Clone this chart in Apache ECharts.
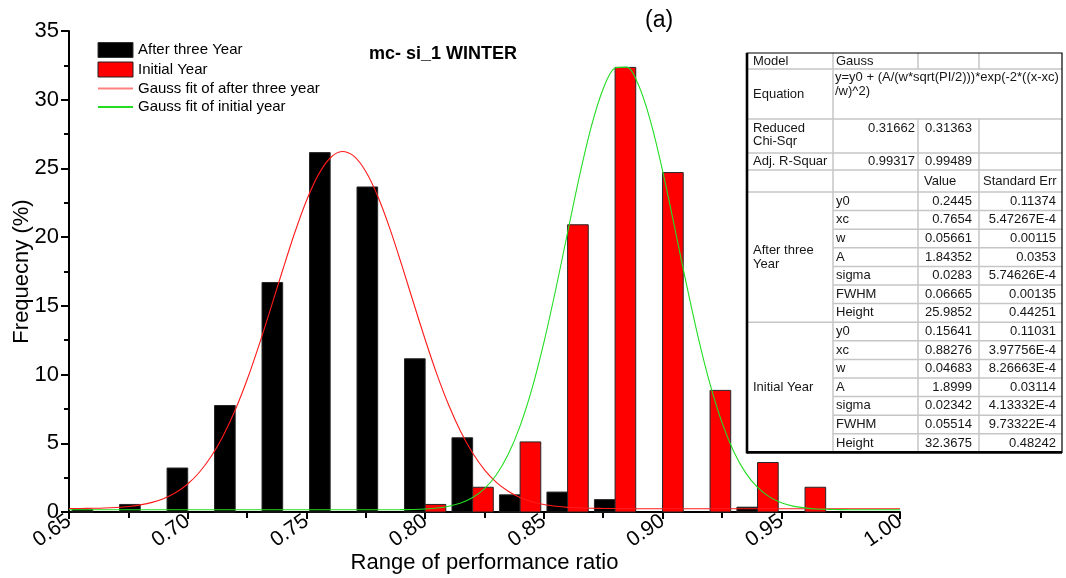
<!DOCTYPE html>
<html>
<head>
<meta charset="utf-8">
<script src="https://cdn.jsdelivr.net/npm/echarts/dist/echarts.min.js"></script>
<style>
  html, body { margin: 0; padding: 0; background: #ffffff; }
  #chart { width: 1066px; height: 578px; }
</style>
</head>
<body>
<div id="chart"></div>
<script>
// Histogram bins (centre of each 0.02-wide bin of performance ratio)
const binCenters = [0.66, 0.68, 0.70, 0.72, 0.74, 0.76, 0.78, 0.80, 0.82, 0.84, 0.86, 0.88, 0.90, 0.92, 0.94, 0.96, 0.98];
// Frequency (%) per bin
const afterThreeYear = [0.2, 0.55, 3.2, 7.75, 16.7, 26.15, 23.65, 11.15, 5.4, 1.25, 1.45, 0.9, 0, 0, 0.35, 0, 0];
const initialYear    = [0, 0, 0, 0, 0, 0, 0, 0.55, 1.8, 5.1, 20.9, 32.35, 24.7, 8.85, 3.6, 1.8, 0];

// Gauss fit curves, [ratio, frequency]
const fitAfterThree = [
  [0.65, 0.25], [0.655, 0.26], [0.66, 0.27], [0.665, 0.29], [0.67, 0.33], [0.675, 0.40],
  [0.68, 0.52], [0.685, 0.70], [0.69, 0.99], [0.695, 1.42], [0.70, 2.04], [0.705, 2.91],
  [0.71, 4.07], [0.715, 5.57], [0.72, 7.42], [0.725, 9.62], [0.73, 12.13], [0.735, 14.84],
  [0.74, 17.61], [0.745, 20.28], [0.75, 22.65], [0.755, 24.53], [0.76, 25.76], [0.765, 26.23],
  [0.77, 25.89], [0.775, 24.77], [0.78, 22.99], [0.785, 20.69], [0.79, 18.05], [0.795, 15.28],
  [0.80, 12.55], [0.805, 10.0], [0.81, 7.75], [0.815, 5.84], [0.82, 4.29], [0.825, 3.07],
  [0.83, 2.16], [0.835, 1.51], [0.84, 1.05], [0.845, 0.74], [0.85, 0.54], [0.855, 0.42],
  [0.86, 0.34], [0.865, 0.30], [0.87, 0.27], [0.875, 0.26], [0.88, 0.25], [0.885, 0.245],
  [0.89, 0.24], [0.95, 0.24], [1.00, 0.24]
];
const fitInitial = [
  [0.65, 0.16], [0.70, 0.16], [0.75, 0.16], [0.775, 0.16], [0.78, 0.16], [0.785, 0.16],
  [0.79, 0.17], [0.795, 0.185], [0.80, 0.22], [0.805, 0.29], [0.81, 0.42], [0.815, 0.65],
  [0.82, 1.05], [0.825, 1.70], [0.83, 2.71], [0.835, 4.20], [0.84, 6.27], [0.845, 8.98],
  [0.85, 12.33], [0.855, 16.19], [0.86, 20.34], [0.865, 24.44], [0.87, 28.06], [0.875, 30.80],
  [0.88, 32.30], [0.885, 32.37], [0.89, 31.01], [0.895, 28.39], [0.90, 24.84], [0.905, 20.78],
  [0.91, 16.61], [0.915, 12.71], [0.92, 9.30], [0.925, 6.52], [0.93, 4.39], [0.935, 2.85],
  [0.94, 1.79], [0.945, 1.10], [0.95, 0.68], [0.955, 0.43], [0.96, 0.30], [0.965, 0.22],
  [0.97, 0.19], [0.975, 0.17], [0.98, 0.16], [0.985, 0.16], [1.00, 0.16]
];

// Axis tick labels
const xTickLabels = ['0.65', '0.70', '0.75', '0.80', '0.85', '0.90', '0.95', '1.00'];
const yTickLabels = ['0', '5', '10', '15', '20', '25', '30', '35'];

// Fit report table contents
const fitModel = 'Gauss';
const fitEquation = ['y=y0 + (A/(w*sqrt(PI/2)))*exp(-2*((x-xc)', '/w)^2)'];
const reducedChiSqr = ['0.31662', '0.31363'];
const adjRSquare = ['0.99317', '0.99489'];
const paramNames = ['y0', 'xc', 'w', 'A', 'sigma', 'FWHM', 'Height'];
const afterParams = [
  ['0.2445', '0.11374'], ['0.7654', '5.47267E-4'], ['0.05661', '0.00115'], ['1.84352', '0.0353'],
  ['0.0283', '5.74626E-4'], ['0.06665', '0.00135'], ['25.9852', '0.44251']
];
const initialParams = [
  ['0.15641', '0.11031'], ['0.88276', '3.97756E-4'], ['0.04683', '8.26663E-4'], ['1.8999', '0.03114'],
  ['0.02342', '4.13332E-4'], ['0.05514', '9.73322E-4'], ['32.3675', '0.48242']
];

const FONT = '"Liberation Sans", Arial, sans-serif';
const BAR_SPAN = 0.0087; // width of each bar in ratio units (two bars per bin)
const RED = '#ff1a1a';
const GREEN = '#22dd22';

function barRenderer(side, fill) {
  return function (params, api) {
    const c = api.value(0);
    const v = api.value(1);
    if (!v) return null;
    const x0 = side < 0 ? c - BAR_SPAN : c;
    const x1 = side < 0 ? c : c + BAR_SPAN;
    const pTop = api.coord([x0, v]);
    const pBot = api.coord([x1, 0]);
    return {
      type: 'rect',
      shape: { x: pTop[0], y: pTop[1], width: pBot[0] - pTop[0], height: pBot[1] - pTop[1] },
      style: { fill: fill, stroke: '#262626', lineWidth: 1 }
    };
  };
}

// ---- fit report table built from graphic elements ----
function buildTable() {
  const cols = [747, 833, 918, 979, 1062];
  const head = [53, 69, 119, 153, 170, 192];
  const rowH = 18.6;
  const bottom = head[5] + rowH * 14;
  const grid = '#c6c6c6';
  const els = [];
  const line = (x1, y1, x2, y2, stroke, w) => els.push({
    type: 'line', shape: { x1, y1, x2, y2 }, style: { stroke, lineWidth: w }, silent: true
  });
  const text = (t, x, y, align, va) => els.push({
    type: 'text', x, y,
    style: { text: t, fill: '#161616', fontSize: 13, fontFamily: FONT, align: align || 'left', verticalAlign: va || 'middle' },
    silent: true
  });
  // background
  els.push({ type: 'rect', shape: { x: cols[0], y: head[0], width: cols[4] - cols[0], height: bottom - head[0] },
    style: { fill: '#ffffff' }, silent: true });
  // header horizontal lines
  for (let i = 1; i < head.length; i++) line(cols[0], head[i], cols[4], head[i], grid, 1.5);
  // vertical lines
  line(cols[1], head[0], cols[1], bottom, grid, 1.5);
  [cols[2], cols[3]].forEach(x => {
    line(x, head[0], x, head[1], grid, 1.5);
    line(x, head[2], x, bottom, grid, 1.5);
  });
  // parameter rows
  for (let k = 1; k < 14; k++) {
    const y = head[5] + rowH * k;
    line(k === 7 ? cols[0] : cols[1], y, cols[4], y, grid, 1.5);
  }
  // outer frame
  els.push({ type: 'rect', shape: { x: cols[0], y: head[0], width: cols[4] - cols[0], height: bottom - head[0] },
    style: { fill: null, stroke: '#000', lineWidth: 1.2 }, silent: true });
  line(cols[0], head[0], cols[0], bottom + 1, '#000', 2.6);
  line(cols[0], bottom, cols[4], bottom, '#000', 2.6);

  // header texts
  text('Model', cols[0] + 6, (head[0] + head[1]) / 2);
  text(fitModel, cols[1] + 3, (head[0] + head[1]) / 2);
  text('Equation', cols[0] + 6, (head[1] + head[2]) / 2);
  text(fitEquation[0], cols[1] + 2, head[1] + 8);
  text(fitEquation[1], cols[1] + 2, head[1] + 22);
  text('Reduced', cols[0] + 6, head[2] + 9);
  text('Chi-Sqr', cols[0] + 6, head[2] + 22);
  text(reducedChiSqr[0], cols[2] - 3, head[2] + 9, 'right');
  text(reducedChiSqr[1], cols[3] - 7, head[2] + 9, 'right');
  text('Adj. R-Squar', cols[0] + 6, (head[3] + head[4]) / 2);
  text(adjRSquare[0], cols[2] - 3, (head[3] + head[4]) / 2, 'right');
  text(adjRSquare[1], cols[3] - 7, (head[3] + head[4]) / 2, 'right');
  text('Value', cols[2] + 6, (head[4] + head[5]) / 2);
  text('Standard Err', cols[3] + 4, (head[4] + head[5]) / 2);

  // parameter groups
  [[['After three', 'Year'], afterParams], [['Initial Year'], initialParams]].forEach((grp, g) => {
    const y0 = head[5] + rowH * 7 * g;
    const mid = y0 + rowH * 3.5;
    const labels = grp[0];
    labels.forEach((t, i) => text(t, cols[0] + 6, mid + (i - (labels.length - 1) / 2) * 14));
    grp[1].forEach((vals, r) => {
      const cy = y0 + rowH * (r + 0.5);
      text(paramNames[r], cols[1] + 3, cy);
      text(vals[0], cols[3] - 7, cy, 'right');
      text(vals[1], cols[4] - 6, cy, 'right');
    });
  });
  return { type: 'group', z: 100, children: els };
}

const chart = echarts.init(document.getElementById('chart'), null, { renderer: 'canvas' });

const option = {
  backgroundColor: '#ffffff',
  animation: false,
  textStyle: { fontFamily: FONT },
  title: {
    text: 'mc- si_1 WINTER',
    left: 364, top: 40,
    textStyle: { fontFamily: FONT, fontSize: 18, fontWeight: 'bold', color: '#000' }
  },
  legend: {
    orient: 'vertical',
    left: 92, top: 37,
    itemWidth: 35, itemHeight: 15, itemGap: 3.5, itemTextGap: 6,
    textStyle: { fontFamily: FONT, fontSize: 15, color: '#000', lineHeight: 15 },
    data: [
      { name: 'After three Year', icon: 'rect', itemStyle: { color: '#000', borderColor: '#333', borderWidth: 1 } },
      { name: 'Initial Year', icon: 'rect', itemStyle: { color: '#ff0000', borderColor: '#222', borderWidth: 1 } },
      { name: 'Gauss fit of after three year', itemStyle: { opacity: 0 }, lineStyle: { color: '#ff8080' } },
      { name: 'Gauss fit of initial year', itemStyle: { opacity: 0 } }
    ]
  },
  grid: { left: 69, right: 166, top: 31, bottom: 66, containLabel: false, outerBoundsMode: 'none' },
  xAxis: {
    type: 'value',
    min: 0.65, max: 1.0, interval: 0.05,
    name: 'Range of performance ratio',
    nameLocation: 'middle', nameGap: 40, nameMoveOverlap: false,
    nameTextStyle: { fontFamily: FONT, fontSize: 22, color: '#000' },
    axisLine: { show: true, onZero: false, lineStyle: { color: '#000', width: 2 } },
    axisTick: { show: true, length: 7, lineStyle: { color: '#000', width: 2 } },
    minorTick: { show: true, splitNumber: 2, length: 6, lineStyle: { color: '#000', width: 2 } },
    splitLine: { show: false },
    axisLabel: {
      rotate: 35, margin: 7,
      fontFamily: FONT, fontSize: 21, color: '#000',
      formatter: v => xTickLabels[Math.round((v - 0.65) / 0.05)]
    }
  },
  yAxis: {
    type: 'value',
    min: 0, max: 35, interval: 5,
    name: 'Frequecny (%)',
    nameLocation: 'middle', nameGap: 36, nameMoveOverlap: false,
    nameTextStyle: { fontFamily: FONT, fontSize: 22, color: '#000' },
    axisLine: { show: true, lineStyle: { color: '#000', width: 2 } },
    axisTick: { show: true, length: 8, lineStyle: { color: '#000', width: 2 } },
    minorTick: { show: true, splitNumber: 2, length: 5, lineStyle: { color: '#000', width: 2 } },
    splitLine: { show: false },
    axisLabel: {
      margin: 10,
      fontFamily: FONT, fontSize: 22, color: '#000',
      formatter: v => yTickLabels[Math.round(v / 5)]
    }
  },
  series: [
    {
      name: 'After three Year', type: 'custom', z: 2,
      renderItem: barRenderer(-1, '#000000'),
      encode: { x: 0, y: 1 },
      data: binCenters.map((c, i) => [c, afterThreeYear[i]])
    },
    {
      name: 'Initial Year', type: 'custom', z: 2,
      renderItem: barRenderer(1, '#ff0000'),
      encode: { x: 0, y: 1 },
      data: binCenters.map((c, i) => [c, initialYear[i]])
    },
    {
      name: 'Gauss fit of after three year', type: 'line', z: 3,
      data: fitAfterThree, symbol: 'none', showSymbol: false, smooth: 0.3,
      lineStyle: { color: RED, width: 1.1 }, itemStyle: { color: RED }
    },
    {
      name: 'Gauss fit of initial year', type: 'line', z: 3,
      data: fitInitial, symbol: 'none', showSymbol: false, smooth: 0.3,
      lineStyle: { color: GREEN, width: 1.1 }, itemStyle: { color: GREEN }
    }
  ],
  graphic: [
    {
      type: 'text', left: 645, top: 9, z: 50,
      style: { text: '(a)', fill: '#000', fontSize: 23, fontFamily: FONT }
    },
    buildTable()
  ]
};

chart.setOption(option);
</script>
</body>
</html>
